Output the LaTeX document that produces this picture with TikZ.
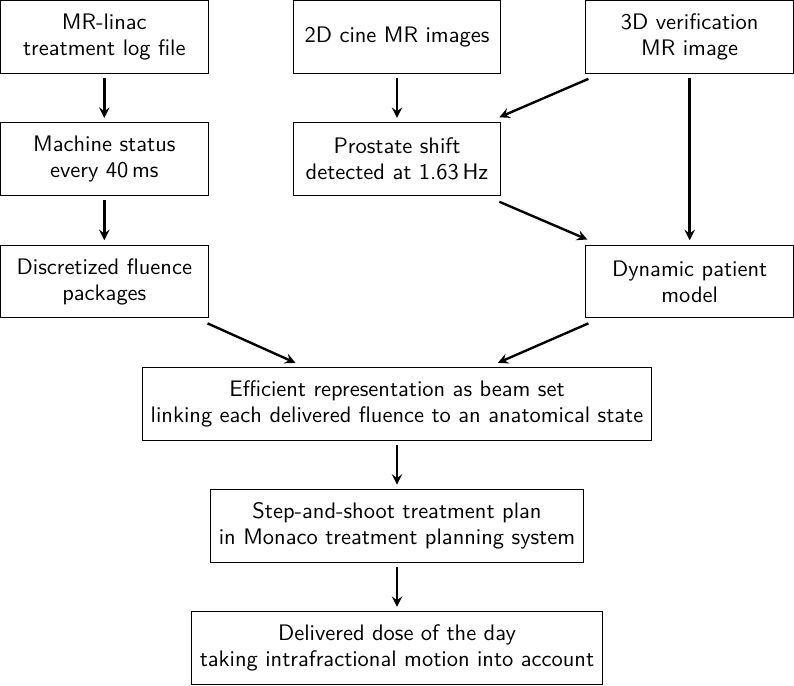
\documentclass[tikz,border=0pt]{standalone}
\usepackage{amsmath,amssymb}
\usepackage{xcolor}
\usepackage{tikz}
\usetikzlibrary{arrows, positioning}

\begin{document}
\begin{tikzpicture}[>= stealth, shorten >= 2pt, shorten <= 2pt,
                    auto, node distance=4.74cm, line width=1.1pt]
\tikzstyle{box}=[shape=rectangle, draw=black, line width=0.45pt, align=center,
                    font=\fontsize{10.35}{12}\selectfont\sffamily, inner sep=4pt,
                    minimum width=95.7pt, minimum height=33.6pt]
  \node[box] (log) {MR-linac\\treatment log file};
  \node[box] (cine)  [right of=log] {2D cine MR images};
  \node[box] (verif) [right of=cine] {3D verification\\MR image};
  \node[box] (status)  [below of=log, node distance=1.98cm] {Machine status\\every 40\,ms};
  \node[box] (shift)   [below of=cine, node distance=1.98cm] {Prostate shift\\detected at 1.63\,Hz};
  \node[box] (fluence) [below of=status, node distance=1.98cm] {Discretized fluence\\packages};
  \node[box] (model)   [below of=verif, node distance=3.96cm] {Dynamic patient\\model};
  \node[box] (beams) [below of=shift, node distance=3.96cm] {Efficient representation as beam set\\linking each delivered fluence to an anatomical state};
  \node[box] (plan)  [below of=beams, node distance=1.98cm] {Step-and-shoot treatment plan\\in Monaco treatment planning system};
  \node[box] (dose)  [below of=plan, node distance=1.98cm] {Delivered dose of the day\\taking intrafractional motion into account};
  \path[->]    (log)    edge (status);
  \path[->]    (status) edge (fluence);
  \path[->]    (cine)   edge (shift);
  \path[->]    (verif)  edge (model);
  \path[->]    (beams)  edge (plan);
  \path[->]    (plan)   edge (dose);
  % diagonal arrows
  \path[->, shorten >=0pt, shorten <=0pt]
    ([xshift=1.4pt,yshift=-2.3pt]verif.south west) edge ([xshift=-0.9pt,yshift=2.3pt]shift.north east)
    ([xshift=-0.9pt,yshift=-2.6pt]shift.south east) edge ([xshift=0.9pt,yshift=2.3pt]model.north west)
    ([xshift=-0.5pt,yshift=-2.3pt]fluence.south east) edge ([xshift=-46.8pt,yshift=1.8pt]beams.north)
    ([xshift=1.4pt,yshift=-2.3pt]model.south west) edge ([xshift=46.5pt,yshift=1.8pt]beams.north);
\end{tikzpicture}
\end{document}
